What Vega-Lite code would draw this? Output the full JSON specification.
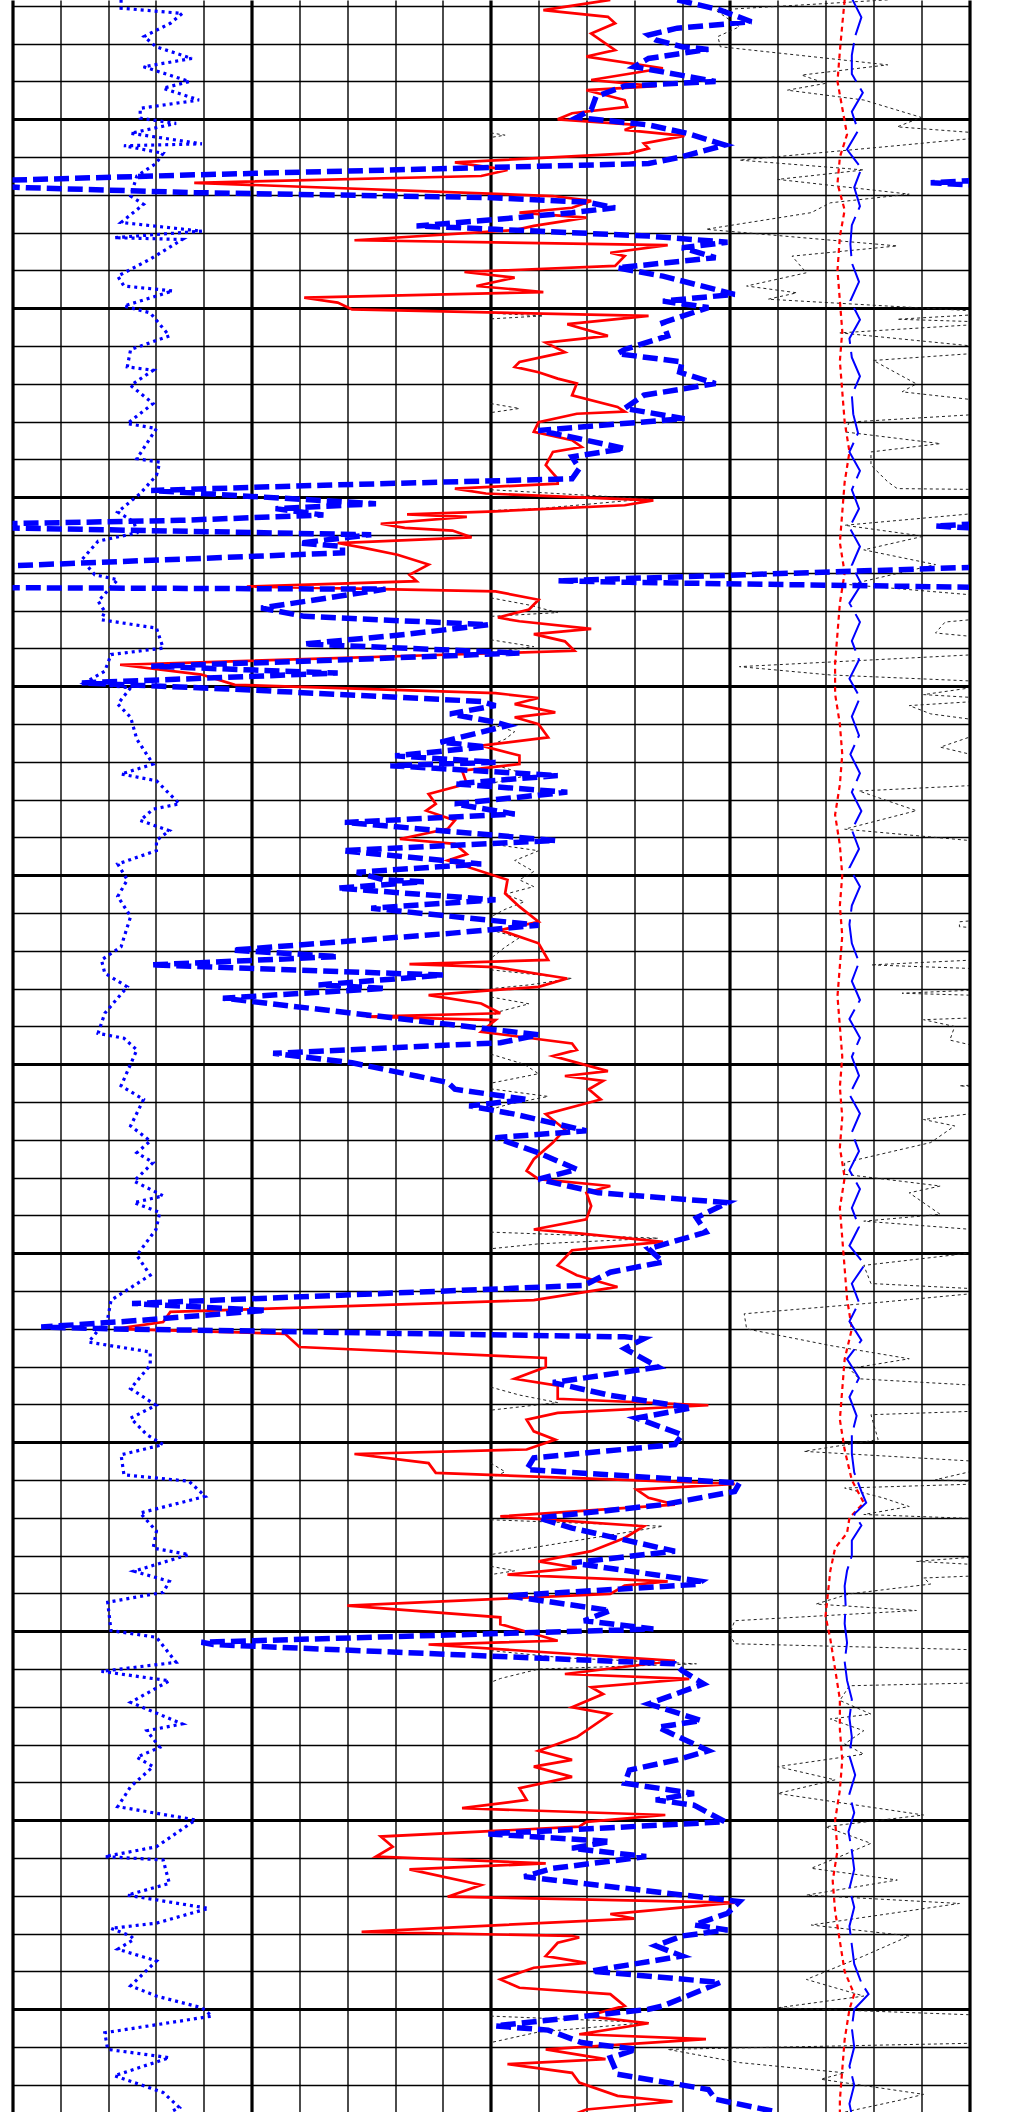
{
"$schema": "https://vega.github.io/schema/vega-lite/v6.json",
"width": 956.5,
"height": 2112,
"autosize": {"type": "none"},
"padding": {"left": 12.5, "top": 0, "right": 51, "bottom": 0},
"background": "white",
"config": {"view": {"stroke": null}},
"datasets": {
"red": [
{"d":968.4,"v":12.5},{"d":971.1,"v":11.1},{"d":972.9,"v":12.45},{"d":974.6,"v":12.6},{"d":977.3,"v":12.1},{"d":981.7,"v":12.6},{"d":983.4,"v":12.0},{"d":986.5,"v":13.6},{"d":989.6,"v":12.1},{"d":991.2,"v":13.45},{"d":992.3,"v":12.0},{"d":994.9,"v":12.8},{"d":996.7,"v":12.85},{"d":998.4,"v":11.7},{"d":1000.0,"v":11.4},{"d":1001.5,"v":13.05},{"d":1002.8,"v":12.8},{"d":1004.4,"v":14.05},{"d":1006.4,"v":13.2},{"d":1007.7,"v":13.3},{"d":1009.0,"v":12.9},{"d":1011.4,"v":9.25},{"d":1013.4,"v":10.35},{"d":1015.0,"v":9.8},
{"d":1016.8,"v":3.8},{"d":1020.3,"v":11.3},{"d":1021.6,"v":12.1},{"d":1023.4,"v":11.7},{"d":1024.7,"v":10.6},{"d":1026.0,"v":12.0},{"d":1028.2,"v":10.9},{"d":1029.3,"v":10.5},{"d":1032.0,"v":7.15},{"d":1033.3,"v":13.7},{"d":1035.3,"v":12.5},{"d":1036.2,"v":12.8},{"d":1038.8,"v":12.6},{"d":1040.4,"v":9.45},{"d":1041.9,"v":10.5},{"d":1044.1,"v":9.7},{"d":1045.0,"v":10.5},{"d":1045.7,"v":11.1},{"d":1047.2,"v":6.1},{"d":1048.5,"v":6.8},{"d":1050.3,"v":7.1},{"d":1052.0,"v":13.3},{"d":1054.2,"v":11.6},{"d":1057.3,"v":12.45},{"d":1059.1,"v":11.15},{"d":1061.6,"v":11.55},
{"d":1064.2,"v":10.6},{"d":1065.5,"v":10.5},{"d":1066.9,"v":11.0},{"d":1068.6,"v":11.4},{"d":1069.9,"v":11.8},{"d":1073.0,"v":11.7},{"d":1076.1,"v":12.65},{"d":1077.3,"v":12.8},{"d":1077.9,"v":11.8},{"d":1080.1,"v":11.0},{"d":1082.7,"v":10.9},{"d":1084.9,"v":11.7},{"d":1086.7,"v":11.9},{"d":1088.0,"v":11.3},{"d":1091.5,"v":11.15},{"d":1095.1,"v":11.4},{"d":1096.4,"v":11.4},{"d":1097.7,"v":9.25},{"d":1099.0,"v":9.9},{"d":1100.8,"v":13.4},{"d":1102.1,"v":12.8},{"d":1103.7,"v":10.1},{"d":1104.5,"v":8.25},{"d":1105.2,"v":9.5},{"d":1107.0,"v":7.7},{"d":1108.1,"v":8.2},
{"d":1108.8,"v":9.2},{"d":1110.6,"v":9.6},{"d":1112.1,"v":6.8},{"d":1113.4,"v":7.35},{"d":1115.2,"v":8.05},{"d":1117.8,"v":8.7},{"d":1120.5,"v":8.3},{"d":1122.2,"v":8.45},{"d":1123.6,"v":4.9},{"d":1124.9,"v":10.1},{"d":1127.1,"v":11.0},{"d":1129.7,"v":10.8},{"d":1131.8,"v":10.15},{"d":1132.8,"v":10.6},{"d":1134.8,"v":12.1},{"d":1136.2,"v":10.9},{"d":1138.1,"v":11.55},{"d":1140.6,"v":11.75},{"d":1144.3,"v":2.25},{"d":1146.9,"v":3.95},{"d":1149.6,"v":4.65},{"d":1151.8,"v":10.1},{"d":1153.1,"v":11.0},{"d":1154.7,"v":10.5},
{"d":1156.9,"v":11.35},{"d":1158.2,"v":10.5},{"d":1160.0,"v":11.0},{"d":1163.5,"v":11.2},{"d":1165.7,"v":9.8},{"d":1168.3,"v":10.6},{"d":1170.6,"v":10.6},{"d":1172.3,"v":9.4},{"d":1175.8,"v":9.5},{"d":1178.5,"v":8.7},{"d":1181.1,"v":8.85},{"d":1182.9,"v":8.65},{"d":1185.5,"v":9.25},{"d":1187.7,"v":9.1},{"d":1190.4,"v":8.1},{"d":1191.7,"v":9.25},{"d":1194.4,"v":9.5},{"d":1196.1,"v":9.1},{"d":1201.2,"v":10.35},
{"d":1204.8,"v":10.3},{"d":1208.3,"v":10.6},{"d":1212.3,"v":11.0},{"d":1214.5,"v":10.2},{"d":1218.0,"v":11.0},{"d":1222.4,"v":11.2},{"d":1223.5,"v":8.3},{"d":1224.3,"v":10.1},{"d":1227.3,"v":11.6},{"d":1229.5,"v":11.0},{"d":1231.7,"v":8.7},{"d":1233.9,"v":9.8},{"d":1236.5,"v":10.2},{"d":1237.4,"v":7.4},{"d":1238.3,"v":10.1},{"d":1241.4,"v":9.8},{"d":1244.5,"v":11.7},{"d":1246.2,"v":11.8},{"d":1247.8,"v":11.3},
{"d":1251.8,"v":12.45},{"d":1253.1,"v":11.55},{"d":1254.4,"v":12.35},{"d":1256.6,"v":12.05},{"d":1259.3,"v":12.3},{"d":1263.2,"v":11.15},{"d":1267.2,"v":11.55},{"d":1270.7,"v":11.3},{"d":1275.1,"v":10.9},{"d":1278.2,"v":10.75},{"d":1280.4,"v":11.0},{"d":1282.2,"v":12.5},{"d":1284.0,"v":12.0},{"d":1287.5,"v":12.1},{"d":1291.0,"v":12.0},{"d":1293.7,"v":10.9},
{"d":1294.8,"v":11.9},{"d":1297.0,"v":13.6},{"d":1299.2,"v":11.7},{"d":1303.2,"v":11.4},{"d":1305.8,"v":11.8},{"d":1308.9,"v":12.65},{"d":1312.4,"v":10.9},{"d":1315.5,"v":3.3},{"d":1318.2,"v":3.15},{"d":1320.0,"v":2.15},{"d":1321.3,"v":5.7},{"d":1324.8,"v":6.0},{"d":1327.7,"v":11.15},{"d":1330.1,"v":11.15},{"d":1333.2,"v":10.5},{"d":1335.0,"v":11.4},{"d":1338.5,"v":11.4},{"d":1340.2,"v":14.55},
{"d":1342.2,"v":11.4},{"d":1344.0,"v":10.75},{"d":1347.1,"v":10.9},{"d":1349.3,"v":11.35},{"d":1351.9,"v":10.75},{"d":1353.1,"v":7.15},{"d":1355.5,"v":8.7},{"d":1358.1,"v":8.85},{"d":1361.0,"v":15.1},{"d":1362.5,"v":13.05},{"d":1364.7,"v":13.3},{"d":1366.5,"v":13.85},{"d":1369.6,"v":10.2},{"d":1372.2,"v":13.2},{"d":1375.3,"v":12.8},{"d":1378.8,"v":12.1},{"d":1381.5,"v":11.0},{"d":1383.2,"v":11.8},{"d":1385.0,"v":10.35},{"d":1386.8,"v":13.7},
{"d":1387.9,"v":12.8},{"d":1390.1,"v":12.5},{"d":1393.2,"v":7.0},{"d":1396.3,"v":10.2},{"d":1398.1,"v":10.2},{"d":1402.5,"v":11.4},{"d":1403.5,"v":8.7},{"d":1407.8,"v":13.85},{"d":1411.3,"v":11.55},{"d":1412.6,"v":14.15},{"d":1414.8,"v":12.1},{"d":1416.6,"v":12.35},{"d":1420.1,"v":11.7},{"d":1421.9,"v":12.5},{"d":1428.0,"v":11.8},{"d":1431.6,"v":11.0},{"d":1434.0,"v":11.7},
{"d":1435.8,"v":10.9},{"d":1438.5,"v":11.7},{"d":1441.5,"v":10.6},{"d":1444.6,"v":10.75},{"d":1446.8,"v":9.4},{"d":1448.6,"v":13.65},{"d":1450.4,"v":12.0},{"d":1451.7,"v":11.85},{"d":1454.3,"v":7.7},{"d":1457.0,"v":7.95},{"d":1459.6,"v":7.6},{"d":1461.4,"v":11.15},{"d":1463.0,"v":8.3},{"d":1467.1,"v":9.8},{"d":1470.2,"v":9.1},{"d":1471.8,"v":15.1},{"d":1474.8,"v":12.5},{"d":1476.0,"v":13.0},{"d":1479.5,"v":7.3},{"d":1480.6,"v":11.7},
{"d":1481.0,"v":11.85},{"d":1482.4,"v":11.4},{"d":1485.9,"v":11.15},{"d":1487.7,"v":12.0},{"d":1489.0,"v":10.9},{"d":1492.1,"v":10.2},{"d":1494.3,"v":10.6},{"d":1496.0,"v":12.5},{"d":1499.1,"v":12.8},{"d":1501.8,"v":12.0},{"d":1503.7,"v":13.3},{"d":1506.6,"v":11.85},{"d":1507.9,"v":14.5},{"d":1510.6,"v":11.15},{"d":1513.2,"v":12.4},{"d":1514.5,"v":10.35},{"d":1516.8,"v":11.7},{"d":1519.4,"v":11.85},{"d":1522.9,"v":12.65},{"d":1524.4,"v":13.8},{"d":1526.5,"v":12.0},{"d":1527.5,"v":11.8}
],
"bdash": [
{"s":1,"d":968.4,"v":13.9},{"s":1,"d":971.1,"v":14.8},{"s":1,"d":974.2,"v":15.45},{"s":1,"d":975.9,"v":13.9},{"s":1,"d":977.7,"v":13.3},{"s":1,"d":979.0,"v":13.45},{"s":1,"d":980.8,"v":14.0},{"s":1,"d":981.5,"v":14.55},{"s":1,"d":983.9,"v":13.3},{"s":1,"d":986.1,"v":13.0},{"s":1,"d":990.0,"v":14.7},{"s":1,"d":991.2,"v":12.8},{"s":1,"d":994.0,"v":12.2},{"s":1,"d":997.5,"v":12.1},{"s":1,"d":999.5,"v":11.8},{"s":1,"d":1001.5,"v":13.3},{"s":1,"d":1003.7,"v":14.1},{"s":1,"d":1006.8,"v":14.9},{"s":1,"d":1009.9,"v":14.0},{"s":1,"d":1011.7,"v":13.3},{"s":1,"d":1014.7,"v":3.8},{"s":1,"d":1016.3,"v":-0.6},
{"s":2,"d":1015.8,"v":20.6},{"s":2,"d":1016.8,"v":19.2},{"s":2,"d":1017.7,"v":20.6},
{"s":3,"d":1017.6,"v":-0.6},{"s":3,"d":1018.1,"v":0.3},{"s":3,"d":1019.4,"v":3.8},{"s":3,"d":1020.7,"v":9.9},{"s":3,"d":1021.9,"v":12.0},{"s":3,"d":1023.4,"v":12.6},{"s":3,"d":1024.7,"v":11.7},{"s":3,"d":1026.5,"v":10.1},{"s":3,"d":1028.2,"v":8.45},{"s":3,"d":1029.1,"v":10.1},{"s":3,"d":1030.9,"v":13.3},{"s":3,"d":1032.5,"v":14.95},{"s":3,"d":1034.0,"v":14.0},{"s":3,"d":1036.6,"v":14.7},{"s":3,"d":1039.3,"v":12.65},{"s":3,"d":1041.5,"v":13.6},{"s":3,"d":1046.3,"v":15.1},{"s":3,"d":1048.1,"v":13.6},{"s":3,"d":1049.8,"v":14.55},{"s":3,"d":1053.8,"v":13.6},{"s":3,"d":1057.3,"v":13.7},{"s":3,"d":1060.9,"v":12.8},{"s":3,"d":1062.0,"v":12.65},{"s":3,"d":1064.2,"v":14.0},{"s":3,"d":1066.9,"v":13.95},{"s":3,"d":1069.9,"v":14.7},{"s":3,"d":1073.0,"v":13.2},{"s":3,"d":1076.5,"v":12.8},{"s":3,"d":1079.2,"v":14.05},{"s":3,"d":1082.3,"v":11.0},{"s":3,"d":1084.5,"v":11.85},{"s":3,"d":1087.1,"v":12.8},{"s":3,"d":1089.3,"v":11.7},{"s":3,"d":1092.4,"v":11.85},{"s":3,"d":1095.1,"v":11.7},{"s":3,"d":1096.8,"v":6.5},{"s":3,"d":1098.2,"v":2.9},{"s":3,"d":1101.7,"v":7.6},{"s":3,"d":1103.0,"v":5.5},{"s":3,"d":1104.7,"v":6.5},{"s":3,"d":1106.1,"v":3.5},{"s":3,"d":1107.1,"v":-0.6},
{"s":4,"d":1106.7,"v":20.6},{"s":4,"d":1107.6,"v":19.3},{"s":4,"d":1108.5,"v":20.6},
{"s":5,"d":1108.0,"v":-0.6},{"s":5,"d":1109.9,"v":7.5},{"s":5,"d":1112.1,"v":6.0},{"s":5,"d":1113.0,"v":6.9},{"s":5,"d":1114.7,"v":6.9},{"s":5,"d":1118.4,"v":-0.6},
{"s":6,"d":1118.3,"v":20.6},{"s":6,"d":1122.1,"v":11.4},{"s":6,"d":1122.5,"v":12.9},{"s":6,"d":1123.9,"v":20.6},
{"s":7,"d":1123.9,"v":-0.6},{"s":7,"d":1124.3,"v":7.8},{"s":7,"d":1129.3,"v":5.2},{"s":7,"d":1131.5,"v":6.1},{"s":7,"d":1133.7,"v":9.95},{"s":7,"d":1136.3,"v":8.2},{"s":7,"d":1138.8,"v":6.1},{"s":7,"d":1141.2,"v":10.6},{"s":7,"d":1143.2,"v":6.5},{"s":7,"d":1144.7,"v":2.9},{"s":7,"d":1146.5,"v":6.8},{"s":7,"d":1149.1,"v":1.45},{"s":7,"d":1150.7,"v":4.5},{"s":7,"d":1154.0,"v":9.8},
{"s":7,"d":1155.1,"v":10.1},{"s":7,"d":1157.3,"v":9.15},{"s":7,"d":1159.5,"v":10.1},{"s":7,"d":1160.4,"v":10.35},{"s":7,"d":1164.8,"v":8.95},{"s":7,"d":1166.0,"v":9.9},{"s":7,"d":1168.4,"v":8.0},{"s":7,"d":1170.1,"v":10.1},{"s":7,"d":1171.0,"v":7.9},{"s":7,"d":1173.6,"v":11.4},{"s":7,"d":1175.8,"v":9.25},{"s":7,"d":1178.0,"v":11.6},{"s":7,"d":1181.1,"v":9.25},{"s":7,"d":1183.8,"v":10.5},{"s":7,"d":1186.0,"v":6.95},{"s":7,"d":1190.8,"v":11.35},{"s":7,"d":1193.5,"v":6.9},{"s":7,"d":1197.0,"v":9.8},{"s":7,"d":1199.2,"v":7.2},{"s":7,"d":1201.2,"v":7.75},
{"s":7,"d":1201.7,"v":8.6},{"s":7,"d":1203.4,"v":6.8},{"s":7,"d":1206.5,"v":10.1},{"s":7,"d":1208.7,"v":7.5},{"s":7,"d":1213.2,"v":11.0},{"s":7,"d":1215.3,"v":9.2},{"s":7,"d":1219.8,"v":4.6},{"s":7,"d":1221.5,"v":6.8},{"s":7,"d":1223.7,"v":2.9},{"s":7,"d":1226.4,"v":9.0},{"s":7,"d":1229.0,"v":6.4},{"s":7,"d":1229.9,"v":7.8},{"s":7,"d":1232.5,"v":4.4},{"s":7,"d":1242.2,"v":11.0},{"s":7,"d":1244.3,"v":10.2},{"s":7,"d":1247.1,"v":5.45},
{"s":7,"d":1249.6,"v":7.1},{"s":7,"d":1253.1,"v":8.45},{"s":7,"d":1254.8,"v":9.1},{"s":7,"d":1256.6,"v":9.25},{"s":7,"d":1259.3,"v":10.75},{"s":7,"d":1261.0,"v":9.55},{"s":7,"d":1263.2,"v":10.5},{"s":7,"d":1267.6,"v":12.0},{"s":7,"d":1269.4,"v":10.1},{"s":7,"d":1273.4,"v":11.0},{"s":7,"d":1277.8,"v":11.8},{"s":7,"d":1280.4,"v":11.0},{"s":7,"d":1284.0,"v":12.25},{"s":7,"d":1286.6,"v":14.95},{"s":7,"d":1290.6,"v":14.3},
{"s":7,"d":1294.4,"v":14.5},{"s":7,"d":1298.8,"v":13.3},{"s":7,"d":1302.3,"v":13.6},{"s":7,"d":1305.0,"v":12.5},{"s":7,"d":1308.5,"v":11.95},{"s":7,"d":1313.3,"v":2.5},{"s":7,"d":1315.1,"v":5.3},{"s":7,"d":1318.0,"v":2.4},{"s":7,"d":1319.5,"v":0.6},{"s":7,"d":1320.0,"v":2.1},{"s":7,"d":1322.1,"v":12.8},{"s":7,"d":1322.6,"v":13.2},{"s":7,"d":1325.2,"v":12.8},{"s":7,"d":1330.1,"v":13.5},{"s":7,"d":1334.2,"v":11.3},{"s":7,"d":1337.6,"v":12.5},{"s":7,"d":1340.9,"v":14.2},
{"s":7,"d":1343.6,"v":13.05},{"s":7,"d":1348.0,"v":14.0},{"s":7,"d":1350.6,"v":13.85},{"s":7,"d":1354.1,"v":10.9},{"s":7,"d":1357.2,"v":10.75},{"s":7,"d":1360.8,"v":15.2},{"s":7,"d":1363.0,"v":15.1},{"s":7,"d":1366.5,"v":13.6},{"s":7,"d":1370.0,"v":11.0},{"s":7,"d":1372.7,"v":11.7},{"s":7,"d":1378.8,"v":13.85},{"s":7,"d":1381.9,"v":11.7},{"s":7,"d":1386.8,"v":14.4},
{"s":7,"d":1387.6,"v":14.3},{"s":7,"d":1390.6,"v":10.35},{"s":7,"d":1394.5,"v":12.5},{"s":7,"d":1397.2,"v":11.95},{"s":7,"d":1399.4,"v":13.4},{"s":7,"d":1402.9,"v":3.95},{"s":7,"d":1403.5,"v":4.2},{"s":7,"d":1408.6,"v":13.85},{"s":7,"d":1410.4,"v":14.0},{"s":7,"d":1413.9,"v":14.45},{"s":7,"d":1419.2,"v":13.3},{"s":7,"d":1423.6,"v":14.4},{"s":7,"d":1425.4,"v":13.5},{"s":7,"d":1431.6,"v":14.55},
{"s":7,"d":1434.0,"v":13.9},{"s":7,"d":1436.7,"v":12.9},{"s":7,"d":1440.2,"v":12.8},{"s":7,"d":1442.9,"v":14.25},{"s":7,"d":1444.6,"v":13.45},{"s":7,"d":1446.0,"v":14.25},{"s":7,"d":1450.4,"v":14.9},{"s":7,"d":1453.6,"v":9.95},{"s":7,"d":1455.6,"v":12.5},{"s":7,"d":1457.4,"v":11.7},{"s":7,"d":1459.6,"v":13.25},{"s":7,"d":1462.7,"v":11.3},{"s":7,"d":1464.9,"v":10.7},{"s":7,"d":1471.5,"v":15.2},{"s":7,"d":1474.6,"v":14.95},{"s":7,"d":1477.7,"v":14.25},{"s":7,"d":1479.0,"v":14.95},
{"s":7,"d":1480.6,"v":14.0},{"s":7,"d":1483.2,"v":13.45},{"s":7,"d":1485.9,"v":14.0},{"s":7,"d":1489.9,"v":12.1},{"s":7,"d":1492.9,"v":14.8},{"s":7,"d":1499.1,"v":13.6},{"s":7,"d":1500.0,"v":13.3},{"s":7,"d":1504.4,"v":10.1},{"s":7,"d":1505.5,"v":11.2},{"s":7,"d":1508.8,"v":11.9},{"s":7,"d":1510.6,"v":13.05},{"s":7,"d":1512.8,"v":12.5},{"s":7,"d":1517.2,"v":12.65},{"s":7,"d":1521.2,"v":14.55},{"s":7,"d":1523.8,"v":14.7},{"s":7,"d":1527.2,"v":16.0}
],
"bdot": [
{"d":968.4,"v":2.27},{"d":970.6,"v":2.27},{"d":972.0,"v":3.55},{"d":974.6,"v":3.3},{"d":978.1,"v":2.75},{"d":980.8,"v":3.0},{"d":983.9,"v":3.75},{"d":986.1,"v":2.74},{"d":990.0,"v":3.7},{"d":991.8,"v":3.15},{"d":994.9,"v":3.9},{"d":997.1,"v":2.67},{"d":999.7,"v":2.67},{"d":1001.1,"v":3.42},{"d":1003.7,"v":2.47},{"d":1006.5,"v":3.96},{"d":1007.0,"v":2.33},{"d":1009.0,"v":3.15},{"d":1011.7,"v":3.0},{"d":1015.0,"v":2.6},
{"d":1020.3,"v":2.47},{"d":1022.5,"v":2.74},{"d":1027.3,"v":2.27},{"d":1029.6,"v":3.96},{"d":1031.3,"v":2.13},{"d":1031.8,"v":3.55},{"d":1037.0,"v":2.88},{"d":1041.5,"v":2.2},{"d":1044.1,"v":2.33},{"d":1045.4,"v":3.35},{"d":1049.4,"v":2.33},{"d":1051.2,"v":2.88},{"d":1057.3,"v":3.28},{"d":1060.9,"v":2.47},
{"d":1065.5,"v":2.4},{"d":1066.4,"v":2.94},{"d":1070.4,"v":2.47},{"d":1075.2,"v":2.94},{"d":1080.5,"v":2.4},{"d":1081.8,"v":3.01},{"d":1089.8,"v":2.6},{"d":1090.7,"v":3.08},{"d":1094.2,"v":3.01},{"d":1099.0,"v":2.67},{"d":1103.9,"v":2.2},{"d":1106.5,"v":2.54},
{"d":1109.4,"v":2.6},{"d":1111.6,"v":1.79},{"d":1116.5,"v":1.45},{"d":1120.5,"v":1.72},{"d":1121.8,"v":2.2},{"d":1127.5,"v":1.79},{"d":1130.2,"v":1.93},{"d":1132.4,"v":1.86},{"d":1134.6,"v":3.01},{"d":1139.9,"v":3.15},{"d":1141.6,"v":2.06},{"d":1146.0,"v":1.93},{"d":1149.1,"v":1.5},{"d":1150.4,"v":2.47},{"d":1154.7,"v":2.2},
{"d":1158.2,"v":2.47},{"d":1164.0,"v":2.6},{"d":1170.6,"v":2.94},{"d":1173.2,"v":2.27},{"d":1175.0,"v":3.01},{"d":1181.1,"v":3.49},{"d":1182.5,"v":2.94},{"d":1185.5,"v":2.67},{"d":1188.2,"v":3.28},{"d":1190.8,"v":3.01},{"d":1193.5,"v":3.01},{"d":1197.0,"v":2.2},{"d":1201.2,"v":2.4},
{"d":1205.6,"v":2.2},{"d":1210.9,"v":2.47},{"d":1218.9,"v":2.27},{"d":1222.4,"v":1.86},{"d":1225.9,"v":1.93},{"d":1229.5,"v":2.4},{"d":1236.5,"v":1.93},{"d":1241.8,"v":1.79},{"d":1243.1,"v":2.33},{"d":1246.2,"v":2.6},
{"d":1255.7,"v":2.27},{"d":1259.3,"v":2.74},{"d":1266.3,"v":2.47},{"d":1270.3,"v":2.88},{"d":1273.4,"v":2.6},{"d":1276.0,"v":2.94},{"d":1280.9,"v":2.54},{"d":1284.8,"v":3.15},{"d":1286.6,"v":2.54},{"d":1289.2,"v":3.08},{"d":1293.7,"v":3.0},
{"d":1300.5,"v":2.6},{"d":1305.8,"v":2.88},{"d":1312.4,"v":2.06},{"d":1317.3,"v":1.99},{"d":1323.5,"v":1.59},{"d":1326.1,"v":2.88},{"d":1329.6,"v":2.88},{"d":1335.8,"v":2.47},{"d":1340.2,"v":3.0},
{"d":1343.6,"v":2.47},{"d":1348.0,"v":2.81},{"d":1350.6,"v":3.15},{"d":1353.3,"v":2.27},{"d":1358.6,"v":2.33},{"d":1360.3,"v":3.69},{"d":1364.3,"v":4.03},{"d":1368.7,"v":2.67},{"d":1373.5,"v":3.01},{"d":1378.0,"v":2.94},{"d":1379.7,"v":3.69},{"d":1384.1,"v":2.54},{"d":1386.8,"v":3.28},
{"d":1389.7,"v":3.15},{"d":1392.3,"v":1.99},{"d":1399.8,"v":2.06},{"d":1401.6,"v":3.01},{"d":1408.2,"v":3.42},{"d":1410.6,"v":1.86},{"d":1413.1,"v":3.28},{"d":1418.8,"v":2.47},{"d":1424.5,"v":3.55},{"d":1426.3,"v":2.81},{"d":1430.7,"v":3.08},{"d":1433.3,"v":2.6},
{"d":1435.8,"v":2.94},{"d":1441.1,"v":2.47},{"d":1446.4,"v":2.2},{"d":1449.9,"v":3.83},{"d":1457.0,"v":3.01},{"d":1459.6,"v":1.93},{"d":1460.5,"v":3.15},{"d":1466.7,"v":3.28},{"d":1469.8,"v":2.4},{"d":1473.3,"v":4.1},{"d":1477.2,"v":3.01},{"d":1478.6,"v":2.06},{"d":1480.6,"v":2.47},
{"d":1481.5,"v":2.54},{"d":1484.1,"v":2.2},{"d":1487.2,"v":3.01},{"d":1493.8,"v":2.47},{"d":1496.5,"v":3.01},{"d":1499.6,"v":3.96},{"d":1501.8,"v":4.17},{"d":1506.2,"v":1.93},{"d":1510.6,"v":1.99},{"d":1512.8,"v":3.28},{"d":1517.6,"v":2.13},{"d":1522.0,"v":3.15},{"d":1526.0,"v":3.49},{"d":1527.2,"v":3.3}
],
"blk": [
{"s":0,"d":968.4,"v":18.3},{"s":0,"d":971.1,"v":14.7},{"s":0,"d":975.5,"v":15.2},{"s":0,"d":978.1,"v":14.75},{"s":0,"d":980.8,"v":14.8},{"s":0,"d":985.6,"v":18.3},{"s":0,"d":988.3,"v":16.5},{"s":0,"d":990.5,"v":17.0},{"s":0,"d":992.3,"v":16.2},{"s":0,"d":994.9,"v":17.8},{"s":0,"d":999.5,"v":19.0},{"s":0,"d":1002.0,"v":18.5},{"s":0,"d":1004.2,"v":20.8},{"s":0,"d":1007.2,"v":18.3},{"s":0,"d":1010.8,"v":15.2},{"s":0,"d":1013.4,"v":17.8},{"s":0,"d":1015.9,"v":16.0},{"s":0,"d":1019.8,"v":18.75},{"s":0,"d":1022.1,"v":17.1},{"s":0,"d":1024.7,"v":16.7},{"s":0,"d":1029.1,"v":14.5},{"s":0,"d":1033.5,"v":18.5},{"s":0,"d":1036.2,"v":16.3},{"s":0,"d":1040.6,"v":16.6},{"s":0,"d":1044.1,"v":15.35},{"s":0,"d":1045.9,"v":16.4},{"s":0,"d":1047.6,"v":15.8},{"s":0,"d":1051.2,"v":20.8},{"s":0,"d":1052.9,"v":18.5},{"s":0,"d":1053.8,"v":20.8},{"s":0,"d":1056.5,"v":17.3},{"s":0,"d":1060.9,"v":20.8},{"s":0,"d":1061.6,"v":20.5},{"s":0,"d":1063.8,"v":18.0},{"s":0,"d":1070.0,"v":18.9},{"s":0,"d":1072.1,"v":18.6},{"s":0,"d":1075.2,"v":20.8},{"s":0,"d":1077.6,"v":20.8},{"s":0,"d":1080.1,"v":17.5},{"s":0,"d":1082.7,"v":17.4},{"s":0,"d":1085.8,"v":19.4},{"s":0,"d":1088.0,"v":17.95},{"s":0,"d":1091.5,"v":17.95},{"s":0,"d":1095.9,"v":18.3},{"s":0,"d":1097.7,"v":18.5},{"s":0,"d":1098.0,"v":20.8},{"s":0,"d":1103.5,"v":20.8},{"s":0,"d":1107.4,"v":17.4},{"s":0,"d":1110.3,"v":19.05},{"s":0,"d":1113.9,"v":17.8},{"s":0,"d":1117.8,"v":19.3},{"s":0,"d":1123.1,"v":17.5},{"s":0,"d":1126.6,"v":20.8},{"s":0,"d":1131.5,"v":20.8},{"s":0,"d":1133.0,"v":19.5},{"s":0,"d":1135.9,"v":19.3},{"s":0,"d":1137.7,"v":20.8},{"s":0,"d":1141.2,"v":20.8},{"s":0,"d":1144.8,"v":15.2},{"s":0,"d":1147.0,"v":17.1},{"s":0,"d":1149.0,"v":20.8},{"s":0,"d":1152.2,"v":19.05},{"s":0,"d":1153.5,"v":20.8},{"s":0,"d":1155.1,"v":18.75},{"s":0,"d":1157.3,"v":19.2},{"s":0,"d":1160.0,"v":20.8},{"s":0,"d":1166.1,"v":19.4},{"s":0,"d":1170.3,"v":20.8},{"s":0,"d":1175.8,"v":20.8},{"s":0,"d":1177.7,"v":17.7},{"s":0,"d":1182.9,"v":18.9},{"s":0,"d":1186.0,"v":17.95},{"s":0,"d":1187.8,"v":17.4},{"s":0,"d":1191.7,"v":20.8},{"s":0,"d":1211.2,"v":20.8},{"s":0,"d":1212.3,"v":19.8},{"s":0,"d":1213.6,"v":19.8},{"s":0,"d":1214.5,"v":20.8},{"s":0,"d":1222.0,"v":20.8},{"s":0,"d":1223.7,"v":17.95},{"s":0,"d":1225.0,"v":20.8},{"s":0,"d":1230.0,"v":20.8},{"s":0,"d":1231.2,"v":18.6},{"s":0,"d":1232.0,"v":20.8},{"s":0,"d":1237.4,"v":20.8},{"s":0,"d":1238.2,"v":19.05},{"s":0,"d":1240.0,"v":19.7},{"s":0,"d":1243.6,"v":19.6},{"s":0,"d":1247.1,"v":20.8},{"s":0,"d":1255.0,"v":20.8},{"s":0,"d":1255.7,"v":19.8},{"s":0,"d":1256.5,"v":20.8},{"s":0,"d":1261.9,"v":20.8},{"s":0,"d":1264.6,"v":19.05},{"s":0,"d":1266.3,"v":19.7},{"s":0,"d":1270.7,"v":19.2},{"s":0,"d":1276.0,"v":17.4},{"s":0,"d":1279.1,"v":17.4},{"s":0,"d":1282.2,"v":19.4},{"s":0,"d":1284.0,"v":18.75},{"s":0,"d":1289.7,"v":19.4},{"s":0,"d":1291.5,"v":17.8},{"s":0,"d":1294.4,"v":20.8},{"s":0,"d":1298.8,"v":20.8},{"s":0,"d":1303.2,"v":17.8},{"s":0,"d":1308.0,"v":17.95},{"s":0,"d":1309.8,"v":20.8},{"s":0,"d":1312.9,"v":18.2},{"s":0,"d":1316.0,"v":15.3},{"s":0,"d":1320.0,"v":15.35},{"s":0,"d":1324.4,"v":17.1},{"s":0,"d":1327.9,"v":18.75},{"s":0,"d":1330.5,"v":17.5},{"s":0,"d":1333.2,"v":17.7},{"s":0,"d":1335.4,"v":20.8},{"s":0,"d":1341.5,"v":20.8},{"s":0,"d":1342.7,"v":17.95},{"s":0,"d":1349.3,"v":18.1},{"s":0,"d":1352.4,"v":16.55},{"s":0,"d":1355.5,"v":20.8},{"s":0,"d":1359.9,"v":19.3},{"s":0,"d":1360.8,"v":20.8},{"s":0,"d":1362.1,"v":17.4},{"s":0,"d":1364.7,"v":18.2},{"s":0,"d":1367.0,"v":18.75},{"s":0,"d":1369.1,"v":17.8},{"s":0,"d":1370.5,"v":20.8},{"s":0,"d":1379.7,"v":20.8},{"s":0,"d":1381.5,"v":18.9},{"s":0,"d":1382.8,"v":20.8},{"s":0,"d":1385.0,"v":20.8},{"s":0,"d":1385.9,"v":19.05},{"s":0,"d":1387.5,"v":19.2},{"s":0,"d":1390.1,"v":17.5},{"s":0,"d":1392.8,"v":16.8},{"s":0,"d":1394.5,"v":18.9},{"s":0,"d":1397.2,"v":15.1},{"s":0,"d":1400.7,"v":15.0},{"s":0,"d":1403.3,"v":15.1},{"s":0,"d":1405.1,"v":20.8},{"s":0,"d":1413.5,"v":20.8},{"s":0,"d":1414.4,"v":17.5},{"s":0,"d":1418.3,"v":17.3},{"s":0,"d":1421.9,"v":17.95},{"s":0,"d":1423.2,"v":17.1},{"s":0,"d":1426.3,"v":17.8},{"s":0,"d":1429.8,"v":17.4},{"s":0,"d":1432.5,"v":17.8},{"s":0,"d":1435.8,"v":16.0},{"s":0,"d":1439.3,"v":17.2},{"s":0,"d":1442.9,"v":16.0},{"s":0,"d":1448.6,"v":19.05},{"s":0,"d":1451.7,"v":17.0},{"s":0,"d":1456.1,"v":17.95},{"s":0,"d":1459.6,"v":17.3},{"s":0,"d":1462.7,"v":16.7},{"s":0,"d":1465.8,"v":18.5},{"s":0,"d":1469.8,"v":16.6},{"s":0,"d":1472.0,"v":19.8},{"s":0,"d":1477.7,"v":16.7},{"s":0,"d":1480.6,"v":18.75},{"s":0,"d":1485.9,"v":17.8},{"s":0,"d":1492.1,"v":16.6},{"s":0,"d":1496.5,"v":17.8},{"s":0,"d":1499.6,"v":16.0},{"s":0,"d":1501.8,"v":20.8},{"s":0,"d":1508.8,"v":20.8},{"s":0,"d":1510.6,"v":13.7},{"s":0,"d":1514.1,"v":15.2},{"s":0,"d":1516.8,"v":17.4},{"s":0,"d":1518.5,"v":16.9},{"s":0,"d":1522.5,"v":19.05},{"s":0,"d":1524.2,"v":18.5},{"s":0,"d":1527.2,"v":17.4},
{"s":1,"d":1003.6,"v":10.0},{"s":1,"d":1004.2,"v":10.3},{"s":1,"d":1004.8,"v":10.0},
{"s":2,"d":1051.3,"v":10.0},{"s":2,"d":1052.0,"v":11.1},{"s":2,"d":1052.8,"v":10.0},
{"s":3,"d":1075.2,"v":10.0},{"s":3,"d":1076.5,"v":10.6},{"s":3,"d":1077.6,"v":10.0},
{"s":4,"d":1098.0,"v":10.0},{"s":4,"d":1100.4,"v":13.3},{"s":4,"d":1103.0,"v":11.0},{"s":4,"d":1103.5,"v":10.0},
{"s":5,"d":1126.6,"v":10.0},{"s":5,"d":1128.5,"v":10.8},{"s":5,"d":1130.5,"v":11.4},{"s":5,"d":1131.5,"v":10.0},
{"s":6,"d":1137.7,"v":10.0},{"s":6,"d":1139.5,"v":10.9},{"s":6,"d":1141.0,"v":10.0},
{"s":7,"d":1160.0,"v":10.0},{"s":7,"d":1162.0,"v":10.5},{"s":7,"d":1164.0,"v":10.3},{"s":7,"d":1165.5,"v":10.0},
{"s":8,"d":1170.5,"v":10.0},{"s":8,"d":1173.5,"v":10.8},{"s":8,"d":1175.7,"v":10.0},
{"s":9,"d":1191.7,"v":10.0},{"s":9,"d":1193.5,"v":11.0},{"s":9,"d":1196.1,"v":10.5},{"s":9,"d":1199.0,"v":10.9},{"s":9,"d":1201.2,"v":10.6},{"s":9,"d":1203.0,"v":10.9},{"s":9,"d":1205.0,"v":10.3},{"s":9,"d":1207.0,"v":10.7},{"s":9,"d":1209.0,"v":10.3},{"s":9,"d":1211.0,"v":10.0},
{"s":10,"d":1214.5,"v":10.0},{"s":10,"d":1216.5,"v":10.6},{"s":10,"d":1219.0,"v":10.3},{"s":10,"d":1222.0,"v":10.0},
{"s":11,"d":1225.0,"v":10.0},{"s":11,"d":1227.3,"v":11.7},{"s":11,"d":1229.0,"v":10.8},{"s":11,"d":1230.0,"v":10.0},
{"s":12,"d":1232.2,"v":10.0},{"s":12,"d":1234.0,"v":10.8},{"s":12,"d":1236.0,"v":10.2},{"s":12,"d":1237.4,"v":10.0},
{"s":13,"d":1247.3,"v":10.0},{"s":13,"d":1250.0,"v":10.7},{"s":13,"d":1252.5,"v":11.0},{"s":13,"d":1255.0,"v":10.0},
{"s":14,"d":1256.5,"v":10.0},{"s":14,"d":1258.5,"v":11.2},{"s":14,"d":1260.5,"v":10.4},{"s":14,"d":1261.9,"v":10.0},
{"s":15,"d":1294.4,"v":10.0},{"s":15,"d":1296.0,"v":13.5},{"s":15,"d":1297.5,"v":11.0},{"s":15,"d":1298.8,"v":10.0},
{"s":16,"d":1335.4,"v":10.0},{"s":16,"d":1337.5,"v":10.6},{"s":16,"d":1339.5,"v":11.4},{"s":16,"d":1341.5,"v":10.0},
{"s":17,"d":1355.5,"v":10.0},{"s":17,"d":1357.8,"v":10.3},{"s":17,"d":1359.5,"v":10.0},
{"s":18,"d":1370.5,"v":10.0},{"s":18,"d":1372.2,"v":13.6},{"s":18,"d":1373.5,"v":13.0},{"s":18,"d":1379.7,"v":10.0},
{"s":19,"d":1382.8,"v":10.0},{"s":19,"d":1384.0,"v":10.5},{"s":19,"d":1385.0,"v":10.0},
{"s":20,"d":1405.1,"v":10.0},{"s":20,"d":1407.0,"v":11.5},{"s":20,"d":1408.6,"v":14.3},{"s":20,"d":1410.0,"v":11.0},{"s":20,"d":1412.5,"v":10.2},{"s":20,"d":1413.5,"v":10.0},
{"s":21,"d":1501.8,"v":10.0},{"s":21,"d":1503.5,"v":13.3},{"s":21,"d":1506.0,"v":11.0},{"s":21,"d":1508.8,"v":10.0}
],
"rdash": [
{"d":968.4,"v":17.4},{"d":975,"v":17.35},{"d":982,"v":17.3},{"d":990,"v":17.25},{"d":997,"v":17.35},{"d":1004,"v":17.45},{"d":1010,"v":17.3},{"d":1017,"v":17.25},{"d":1024,"v":17.4},{"d":1031,"v":17.3},{"d":1040,"v":17.25},{"d":1048,"v":17.3},{"d":1056,"v":17.35},{"d":1064,"v":17.3},{"d":1072,"v":17.35},{"d":1080,"v":17.4},{"d":1088,"v":17.5},{"d":1096,"v":17.4},{"d":1104,"v":17.35},{"d":1112,"v":17.3},{"d":1120,"v":17.4},{"d":1128,"v":17.3},{"d":1136,"v":17.25},{"d":1144,"v":17.2},{"d":1152,"v":17.2},{"d":1160,"v":17.3},{"d":1168,"v":17.35},{"d":1176,"v":17.3},{"d":1184,"v":17.2},{"d":1192,"v":17.3},{"d":1200,"v":17.35},{"d":1208,"v":17.3},{"d":1216,"v":17.35},{"d":1224,"v":17.3},{"d":1232,"v":17.25},{"d":1240,"v":17.3},{"d":1248,"v":17.35},{"d":1256,"v":17.3},{"d":1264,"v":17.35},{"d":1272,"v":17.3},{"d":1280,"v":17.4},{"d":1288,"v":17.3},{"d":1296,"v":17.35},{"d":1304,"v":17.4},{"d":1312,"v":17.45},{"d":1320,"v":17.55},{"d":1328,"v":17.4},{"d":1336,"v":17.35},{"d":1344,"v":17.3},{"d":1352,"v":17.4},{"d":1360,"v":17.55},{"d":1366,"v":17.8},{"d":1370,"v":17.5},{"d":1374,"v":17.45},{"d":1378,"v":17.2},{"d":1384,"v":17.1},{"d":1390,"v":17.05},{"d":1396,"v":17.0},{"d":1402,"v":17.1},{"d":1410,"v":17.2},{"d":1418,"v":17.3},{"d":1426,"v":17.3},{"d":1434,"v":17.35},{"d":1442,"v":17.3},{"d":1450,"v":17.2},{"d":1458,"v":17.25},{"d":1466,"v":17.15},{"d":1474,"v":17.2},{"d":1482,"v":17.3},{"d":1490,"v":17.4},{"d":1496,"v":17.6},{"d":1500,"v":17.5},{"d":1508,"v":17.4},{"d":1516,"v":17.35},{"d":1524,"v":17.3},{"d":1527.2,"v":17.3}
],
"bsol": [
{"d":968,"v":17.55},{"d":973,"v":17.75},{"d":978,"v":17.62},{"d":983,"v":17.55},{"d":988,"v":17.55},{"d":993,"v":17.78},{"d":998,"v":17.55},{"d":1003,"v":17.68},{"d":1008,"v":17.45},{"d":1013,"v":17.75},{"d":1018,"v":17.6},{"d":1023,"v":17.72},{"d":1028,"v":17.55},{"d":1033,"v":17.52},{"d":1038,"v":17.55},{"d":1043,"v":17.7},{"d":1048,"v":17.52},{"d":1053,"v":17.72},{"d":1058,"v":17.5},{"d":1063,"v":17.55},{"d":1068,"v":17.72},{"d":1073,"v":17.55},{"d":1078,"v":17.58},{"d":1083,"v":17.68},{"d":1088,"v":17.5},{"d":1093,"v":17.72},{"d":1098,"v":17.55},{"d":1103,"v":17.7},{"d":1108,"v":17.5},{"d":1113,"v":17.72},{"d":1118,"v":17.55},{"d":1123,"v":17.75},{"d":1128,"v":17.5},{"d":1133,"v":17.72},{"d":1138,"v":17.55},{"d":1143,"v":17.7},{"d":1148,"v":17.5},{"d":1153,"v":17.72},{"d":1158,"v":17.55},{"d":1163,"v":17.7},{"d":1168,"v":17.52},{"d":1173,"v":17.72},{"d":1178,"v":17.55},{"d":1183,"v":17.75},{"d":1188,"v":17.55},{"d":1193,"v":17.7},{"d":1198,"v":17.5},{"d":1203,"v":17.72},{"d":1208,"v":17.55},{"d":1213,"v":17.5},{"d":1218,"v":17.55},{"d":1223,"v":17.7},{"d":1228,"v":17.55},{"d":1233,"v":17.72},{"d":1238,"v":17.5},{"d":1243,"v":17.72},{"d":1248,"v":17.55},{"d":1253,"v":17.7},{"d":1258,"v":17.5},{"d":1263,"v":17.72},{"d":1268,"v":17.55},{"d":1273,"v":17.7},{"d":1278,"v":17.5},{"d":1283,"v":17.72},{"d":1288,"v":17.55},{"d":1293,"v":17.7},{"d":1298,"v":17.5},{"d":1303,"v":17.82},{"d":1308,"v":17.55},{"d":1313,"v":17.7},{"d":1318,"v":17.5},{"d":1323,"v":17.75},{"d":1328,"v":17.45},{"d":1333,"v":17.7},{"d":1338,"v":17.5},{"d":1343,"v":17.65},{"d":1348,"v":17.55},{"d":1353,"v":17.55},{"d":1358,"v":17.6},{"d":1363,"v":17.75},{"d":1366,"v":17.85},{"d":1369,"v":17.6},{"d":1372,"v":17.75},{"d":1376,"v":17.55},{"d":1380,"v":17.55},{"d":1384,"v":17.45},{"d":1388,"v":17.4},{"d":1393,"v":17.42},{"d":1398,"v":17.4},{"d":1403,"v":17.45},{"d":1408,"v":17.4},{"d":1413,"v":17.45},{"d":1418,"v":17.55},{"d":1423,"v":17.5},{"d":1428,"v":17.55},{"d":1433,"v":17.5},{"d":1438,"v":17.62},{"d":1443,"v":17.5},{"d":1448,"v":17.6},{"d":1453,"v":17.48},{"d":1458,"v":17.55},{"d":1463,"v":17.6},{"d":1468,"v":17.5},{"d":1473,"v":17.6},{"d":1478,"v":17.5},{"d":1483,"v":17.55},{"d":1488,"v":17.6},{"d":1493,"v":17.75},{"d":1496,"v":17.9},{"d":1500,"v":17.6},{"d":1505,"v":17.55},{"d":1510,"v":17.6},{"d":1515,"v":17.5},{"d":1520,"v":17.6},{"d":1525,"v":17.5},{"d":1528,"v":17.55}
]
},
"encoding": {
"x": {"field": "v", "type": "quantitative", "scale": {"domain": [0, 20], "nice": false, "zero": false},
"axis": {"values": [0,1,2,3,4,5,6,7,8,9,10,11,12,13,14,15,16,17,18,19,20], "grid": true, "gridColor": "#000000", "gridOpacity": 1,
"gridWidth": {"condition": {"test": "datum.value % 5 === 0", "value": 3.2}, "value": 1.4},
"labels": false, "ticks": false, "domain": false, "title": null, "orient": "top"}},
"y": {"field": "d", "type": "quantitative", "scale": {"domain": [968.44, 1527.17], "reverse": true, "nice": false, "zero": false},
"axis": {"values": [970,980,990,1000,1010,1020,1030,1040,1050,1060,1070,1080,1090,1100,1110,1120,1130,1140,1150,1160,1170,1180,1190,1200,1210,1220,1230,1240,1250,1260,1270,1280,1290,1300,1310,1320,1330,1340,1350,1360,1370,1380,1390,1400,1410,1420,1430,1440,1450,1460,1470,1480,1490,1500,1510,1520],
"grid": true, "gridColor": "#000000", "gridOpacity": 1,
"gridWidth": {"condition": {"test": "datum.value % 50 === 0", "value": 3.2}, "value": 1.4},
"labels": false, "ticks": false, "domain": false, "title": null}},
"order": {"field": "d", "type": "quantitative"}
},
"layer": [
{"data": {"name": "blk"}, "mark": {"type": "line", "color": "#222222", "strokeWidth": 1, "strokeDash": [3, 3], "clip": true}, "encoding": {"detail": {"field": "s", "type": "nominal"}}},
{"data": {"name": "bdot"}, "mark": {"type": "line", "color": "#0000ff", "strokeWidth": 3.2, "strokeDash": [3, 4], "clip": true}, "encoding": {}},
{"data": {"name": "rdash"}, "mark": {"type": "line", "color": "#ff0000", "strokeWidth": 2.2, "strokeDash": [5, 4], "clip": true}, "encoding": {}},
{"data": {"name": "bsol"}, "mark": {"type": "line", "color": "#0000ff", "strokeWidth": 2, "strokeDash": [40, 8], "clip": true}, "encoding": {}},
{"data": {"name": "red"}, "mark": {"type": "line", "color": "#ff0000", "strokeWidth": 2.7, "clip": true}, "encoding": {}},
{"data": {"name": "bdash"}, "mark": {"type": "line", "color": "#0000ff", "strokeWidth": 5.5, "strokeDash": [15, 6], "clip": true}, "encoding": {"detail": {"field": "s", "type": "nominal"}}}
]
}
